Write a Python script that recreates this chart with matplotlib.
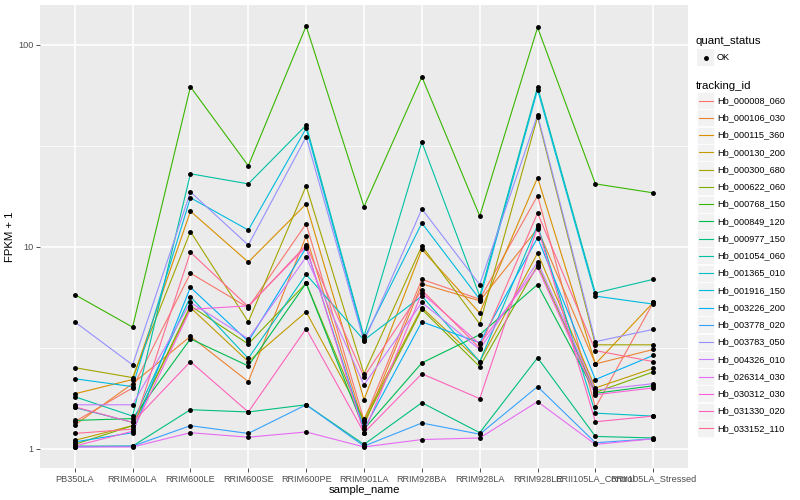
import numpy as np
from matplotlib import pyplot as plt
from matplotlib.patches import Rectangle

plt.rcParams["font.family"] = ["Liberation Sans", "DejaVu Sans"]

samples = ["PB350LA", "RRIM600LA", "RRIM600LE", "RRIM600SE", "RRIM600PE",
           "RRIM901LA", "RRIM928BA", "RRIM928LA", "RRIM928LE",
           "RRII105LA_Control", "RRII105LA_Stressed"]

tracking_ids = ["Hb_000008_060", "Hb_000106_030", "Hb_000115_360", "Hb_000130_200",
                "Hb_000300_680", "Hb_000622_060", "Hb_000768_150", "Hb_000849_120",
                "Hb_000977_150", "Hb_001054_060", "Hb_001365_010", "Hb_001916_150",
                "Hb_003226_200", "Hb_003778_020", "Hb_003783_050", "Hb_004326_010",
                "Hb_026314_030", "Hb_030312_030", "Hb_031330_020", "Hb_033152_110"]

# ggplot hue palette for 20 levels
colors = ["#F8766D", "#EA8331", "#D89000", "#C09B00", "#A3A500", "#7CAE00", "#39B600",
          "#00BB4E", "#00BF7D", "#00C1A3", "#00BFC4", "#00BAE0", "#00B0F6", "#35A2FF",
          "#9590FF", "#C77CFF", "#E76BF3", "#FA62DB", "#FF62BC", "#FF6C91"]

# FPKM + 1, one list per tracking_id, in sample order
fpkm = [
    [1.36, 2.00, 7.4, 5.00, 13.0, 1.38, 6.9, 5.5, 17.9, 1.60, 5.3],
    [1.31, 2.10, 3.6, 2.15, 11.3, 1.30, 6.55, 5.4, 12.3, 2.63, 3.1],
    [1.87, 2.20, 15.0, 8.4, 16.3, 1.75, 9.7, 4.7, 22.0, 2.63, 5.3],
    [1.10, 1.30, 5.0, 2.7, 4.76, 1.40, 5.0, 2.7, 9.3, 2.00, 2.5],
    [2.52, 2.25, 11.9, 4.25, 20.0, 2.35, 10.1, 4.15, 44.0, 3.27, 3.27],
    [1.05, 1.30, 5.1, 3.3, 6.6, 1.35, 4.9, 2.55, 8.1, 1.90, 2.4],
    [5.8, 4.0, 62.0, 25.2, 124.0, 15.8, 69.5, 14.2, 122.0, 20.5, 18.5],
    [1.38, 1.41, 3.5, 2.57, 6.6, 1.25, 2.66, 3.67, 6.5, 1.88, 2.05],
    [1.03, 1.03, 1.56, 1.52, 1.65, 1.05, 1.69, 1.20, 2.82, 1.15, 1.13],
    [1.81, 1.45, 23.0, 20.5, 40.0, 3.6, 33.0, 5.7, 62.0, 5.9, 6.9],
    [1.60, 1.35, 5.66, 2.8, 7.3, 3.45, 5.7, 2.7, 12.8, 1.50, 1.45],
    [2.22, 2.03, 17.5, 12.1, 38.6, 3.5, 13.1, 5.5, 60.0, 5.7, 5.2],
    [1.08, 1.20, 6.3, 3.4, 9.9, 1.25, 4.25, 3.35, 11.1, 2.20, 2.9],
    [1.02, 1.03, 1.30, 1.19, 1.65, 1.03, 1.34, 1.18, 2.03, 1.07, 1.12],
    [4.25, 2.6, 18.7, 10.2, 35.0, 3.4, 15.4, 6.5, 45.0, 3.39, 3.9],
    [1.65, 1.65, 5.3, 3.5, 8.9, 2.07, 5.3, 3.1, 8.4, 1.95, 2.1],
    [1.02, 1.02, 1.20, 1.14, 1.21, 1.02, 1.11, 1.13, 1.71, 1.05, 1.12],
    [1.03, 1.22, 4.9, 5.1, 10.0, 1.20, 5.9, 3.3, 7.9, 1.85, 2.0],
    [1.61, 1.35, 2.7, 1.52, 3.93, 1.20, 2.35, 1.77, 12.5, 1.36, 1.45],
    [1.19, 1.25, 9.4, 5.05, 10.2, 2.27, 6.1, 3.15, 14.7, 3.06, 2.7],
]

fig = plt.figure(figsize=(8, 5), dpi=100)
ax = fig.add_axes([40 / 800, 32 / 500, 648 / 800, 463 / 500])
ax.set_facecolor("#EBEBEB")

x = np.arange(1, len(samples) + 1)
for vals, col in zip(fpkm, colors):
    ax.plot(x, vals, color=col, linewidth=0.8, zorder=2)
for vals in fpkm:
    ax.plot(x, vals, linestyle="none", marker="o", markersize=2.5,
            color="black", zorder=3)

ax.set_yscale("log")
allv = np.log10(np.concatenate([np.array(v) for v in fpkm]))
lo, hi = allv.min(), allv.max()
pad = 0.05 * (hi - lo)
ax.set_ylim(10 ** (lo - pad), 10 ** (hi + pad))
ax.set_xlim(0.4, len(samples) + 0.6)

ax.set_yticks([1, 10, 100])
ax.set_yticklabels(["1", "10", "100"])
ax.set_yticks([10 ** 0.5, 10 ** 1.5], minor=True)
ax.yaxis.set_minor_formatter(plt.NullFormatter())
ax.set_xticks(x)
ax.set_xticklabels(samples)

ax.grid(True, which="major", color="white", linewidth=1.1, zorder=0)
ax.grid(True, which="minor", axis="y", color="white", linewidth=0.55, zorder=0)
ax.set_axisbelow(True)
for s in ax.spines.values():
    s.set_visible(False)
ax.tick_params(which="major", length=2.7, width=0.6, color="#333333",
               labelcolor="#4D4D4D", labelsize=6.6, pad=2)
ax.tick_params(which="minor", length=0)

ax.set_xlabel("sample_name", fontsize=8.2, labelpad=1)
ax.set_ylabel("FPKM + 1", fontsize=8.2, labelpad=2)

# --- legends, drawn in pixel coordinates on an overlay axes ---
lg = fig.add_axes([0, 0, 1, 1], facecolor="none")
lg.set_xlim(0, 800)
lg.set_ylim(500, 0)
lg.axis("off")

lg.text(696, 41, "quant_status", fontsize=8.2, va="center", ha="left")
lg.add_patch(Rectangle((697, 49), 17, 17, facecolor="#F2F2F2", edgecolor="none"))
lg.plot([705.5], [57.5], marker="o", markersize=2.5, color="black")
lg.text(717, 57.5, "OK", fontsize=6.6, va="center", ha="left")

lg.text(696, 86, "tracking_id", fontsize=8.2, va="center", ha="left")
y0, step = 100.5, 17.25
for i, (tid, col) in enumerate(zip(tracking_ids, colors)):
    yc = y0 + i * step
    lg.add_patch(Rectangle((697, yc - 8.5), 17, 17, facecolor="#F2F2F2",
                           edgecolor="white", linewidth=0.5))
    lg.plot([698.5, 712.5], [yc, yc], color=col, linewidth=0.8)
    lg.text(717, yc, tid, fontsize=6.6, va="center", ha="left")

fig.savefig("out.png", dpi=100)
plt.close(fig)
